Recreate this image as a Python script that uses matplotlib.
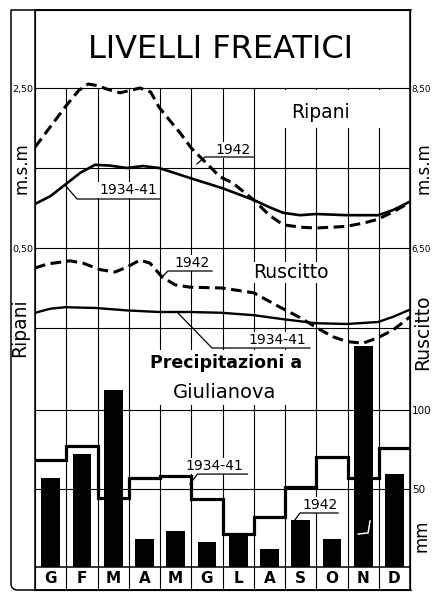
import numpy as np
import matplotlib.pyplot as plt
from matplotlib.patches import Rectangle

# mesi dell'anno
mesi = ["G", "F", "M", "A", "M", "G", "L", "A", "S", "O", "N", "D"]

# Ripani - livello freatico (m s.m.), ascissa in mesi
ripani_1942_x = [0, 0.5, 1.0, 1.4, 1.7, 2.0, 2.35, 2.72, 3.05, 3.36, 3.7, 3.97, 4.3,
                 4.64, 5.0, 5.28, 5.92, 6.34, 7.0, 7.5, 7.94, 8.5, 8.99, 9.5, 9.95,
                 10.5, 10.98, 11.5, 12]
ripani_1942 = [1.76, 2.02, 2.28, 2.47, 2.55, 2.53, 2.48, 2.44, 2.47, 2.50, 2.45, 2.26, 2.10,
               1.94, 1.75, 1.64, 1.39, 1.31, 1.10, 0.91, 0.79, 0.76, 0.75, 0.76, 0.77,
               0.81, 0.86, 0.96, 1.07]
ripani_media_x = [0, 0.5, 0.96, 1.45, 1.92, 2.4, 2.94, 3.46, 3.97, 4.96, 5.98, 7.0, 7.5,
                  7.94, 8.48, 8.99, 9.98, 10.98, 11.46, 12]
ripani_media = [1.05, 1.15, 1.29, 1.44, 1.54, 1.53, 1.50, 1.525, 1.50, 1.375, 1.25, 1.10, 1.01,
                0.94, 0.91, 0.925, 0.91, 0.91, 0.975, 1.08]

# Ruscitto - livello freatico (m s.m.)
ruscitto_1942_x = [0, 0.4, 1.12, 1.54, 2.08, 2.56, 2.94, 3.36, 3.68, 4.06, 4.48, 4.96,
                   5.98, 7.0, 7.84, 8.48, 9.12, 9.54, 9.98, 10.5, 10.98, 11.46, 12]
ruscitto_1942 = [6.25, 6.30, 6.34, 6.31, 6.23, 6.20, 6.26, 6.35, 6.31, 6.14, 6.04, 6.01,
                 6.00, 5.94, 5.76, 5.63, 5.48, 5.39, 5.33, 5.31, 5.38, 5.475, 5.64]
ruscitto_media_x = [0, 0.48, 0.96, 1.95, 2.94, 3.97, 4.96, 5.98, 7.0, 7.94, 8.99, 9.98,
                    10.98, 11.46, 12]
ruscitto_media = [5.69, 5.74, 5.76, 5.75, 5.72, 5.70, 5.70, 5.69, 5.66, 5.61, 5.56, 5.55,
                  5.575, 5.64, 5.73]

# precipitazioni a Giulianova (mm)
pioggia_media = [68, 77, 44, 57, 58, 43, 21, 32, 51, 70, 57, 76]
pioggia_1942 = [57, 72, 113, 18, 23, 16, 20, 11.5, 30, 18, 141, 59]

ticks_ripani = [2.5, 0.5]
ticks_ruscitto = [8.5, 6.5]
ticks_pioggia = [100, 50]
scarto = 6.0  # scala Ruscitto = scala Ripani + 6 m


def virgola(v):
    return f"{v:.2f}".replace(".", ",")


W, H = 434, 594
fig = plt.figure(figsize=(W / 100, H / 100), dpi=100)


def rett(l, t, r, b):
    return [l / W, 1 - b / H, (r - l) / W, (b - t) / H]


# cornice esterna con angolo arrotondato
bg = fig.add_axes([0, 0, 1, 1], zorder=-1)
bg.set_xlim(0, W)
bg.set_ylim(H, 0)
bg.axis("off")
t = np.linspace(0, np.pi / 2, 10)
bx = [411, 17] + list(17 - 6 * np.sin(t)) + [11, 411]
by = [590, 590] + list(584 + 6 * np.cos(t)) + [10, 10]
bg.plot(bx, by, color="k", lw=1.1)

ax = fig.add_axes(rett(35, 10, 410, 590))
ax.set_facecolor("none")
ax.set_xlim(0, 12)
ax.set_ylim(-3.775, 3.475)
for s in ax.spines.values():
    s.set_linewidth(1.1)

ax2 = ax.twinx()
ax2.set_ylim(-14.65, 354.8)
ax2.set_xlim(0, 12)

# griglia
ax.vlines(range(1, 12), -3.775, 2.5, color="k", lw=0.8, zorder=1)
ax.hlines([2.5, 1.5, 0.5, -0.5], 0, 12, color="k", lw=0.8, zorder=1)
ax.add_patch(Rectangle((7.2, 2.0), 4.75, 0.47, facecolor="white", edgecolor="none", zorder=1.5))
ax.add_patch(Rectangle((3.3, -1.46), 5.55, 0.68, facecolor="white", edgecolor="none", zorder=1.5))

# curve dei livelli
dash = (0, (3.5, 1.8))
ax.plot(ripani_1942_x, ripani_1942, color="k", lw=2.2, ls=dash, zorder=3)
ax.plot(ripani_media_x, ripani_media, color="k", lw=1.9, zorder=3)
ax.plot(ruscitto_1942_x, np.array(ruscitto_1942) - scarto, color="k", lw=2.2, ls=dash, zorder=3)
ax.plot(ruscitto_media_x, np.array(ruscitto_media) - scarto, color="k", lw=1.7, zorder=3)

bianco = dict(facecolor="white", edgecolor="none", pad=0.8)
ax.text(5.92, 2.975, "LIVELLI FREATICI", fontsize=23, ha="center", va="center")
ax.text(9.12, 2.19, "Ripani", fontsize=13.5, ha="center", va="center", zorder=4)
ax.text(8.19, 0.19, "Ruscitto", fontsize=13.5, ha="center", va="center", bbox=bianco, zorder=4)

ax.text(6.34, 1.725, "1942", fontsize=10, ha="center", va="center", bbox=bianco, zorder=4)
ax.plot([5.18, 5.44, 7.0], [1.55, 1.6375, 1.6375], color="k", lw=0.9, zorder=5)
ax.text(2.98, 1.225, "1934-41", fontsize=10, ha="center", va="center", bbox=bianco, zorder=4)
ax.plot([0.96, 1.344, 4.0], [1.2875, 1.1125, 1.1125], color="k", lw=0.9, zorder=5)

ax.text(5.02, 0.3125, "1942", fontsize=10, ha="center", va="center", bbox=bianco, zorder=4)
ax.plot([4.03, 4.256, 5.664], [0.125, 0.2125, 0.2125], color="k", lw=0.9, zorder=5)
ax.text(7.74, -0.65, "1934-41", fontsize=10, ha="center", va="center", bbox=bianco, zorder=4)
ax.plot([4.576, 5.664, 8.8], [-0.3125, -0.75, -0.75], color="k", lw=0.9, zorder=5)

ax.text(6.11, -0.94, "Precipitazioni a", fontsize=12.5, fontweight="bold",
        ha="center", va="center", zorder=4)
ax.text(6.08, -1.3, "Giulianova", fontsize=14, ha="center", va="center", zorder=4)

# precipitazioni
ax2.hlines([50, 100], 0, 12, color="k", lw=0.8, zorder=1)
ax2.hlines(0, 0, 12, color="k", lw=1.1, zorder=1)
ax2.stairs(pioggia_media, np.arange(13), baseline=None, color="k", lw=2.3, zorder=2)
ax2.bar(np.arange(12) + 0.5, pioggia_1942, width=0.6, color="k", zorder=3)
ax2.plot([10.72, 10.66, 10.34], [29.3, 21.7, 21], color="white", lw=1.1, zorder=4)

ax2.text(5.75, 64.3, "1934-41", fontsize=10, ha="center", va="center", bbox=bianco, zorder=4)
ax2.plot([4.96, 5.2, 6.8], [52.9, 59.2, 59.2], color="k", lw=0.9, zorder=5)
ax2.text(9.12, 39.5, "1942", fontsize=10, ha="center", va="center", bbox=bianco, zorder=4)
ax2.plot([8.29, 8.48, 9.7], [29.3, 34.4, 34.4], color="k", lw=0.9, zorder=5)

for i, m in enumerate(mesi):
    ax2.text(i + 0.5, -7.3, m, fontsize=11, fontweight="bold", ha="center", va="center")

# assi
ax.set_xticks([])
ax.set_yticks(ticks_ripani)
ax.set_yticklabels([virgola(v) for v in ticks_ripani])
ax.tick_params(axis="y", length=0, pad=1.5, labelsize=6.8)

ax2.set_yticks(ticks_pioggia)
ax2.set_yticklabels([str(v) for v in ticks_pioggia])
ax2.tick_params(axis="y", length=0, pad=1.5, labelsize=7.5)

sec = ax.secondary_yaxis("right", functions=(lambda v: v + scarto, lambda v: v - scarto))
sec.set_yticks(ticks_ruscitto)
sec.set_yticklabels([virgola(v) for v in ticks_ruscitto])
sec.tick_params(length=0, pad=1, labelsize=6.3)

ty = ax.get_yaxis_transform()
ax.text(-0.035, 1.5, "m.s.m", transform=ty, rotation=90, fontsize=12, ha="center", va="center")
ax.text(-0.04, -0.5, "Ripani", transform=ty, rotation=90, fontsize=13.5, ha="center", va="center")
ax.text(1.035, 1.5, "m.s.m", transform=ty, rotation=90, fontsize=12, ha="center", va="center")
ax.text(1.035, -0.55, "Ruscitto", transform=ty, rotation=90, fontsize=13.5, ha="center", va="center")
ax2.text(1.03, 20, "mm", transform=ax2.get_yaxis_transform(), rotation=90, fontsize=12,
         ha="center", va="center")

fig.savefig("out.png", dpi=100, facecolor="white")
